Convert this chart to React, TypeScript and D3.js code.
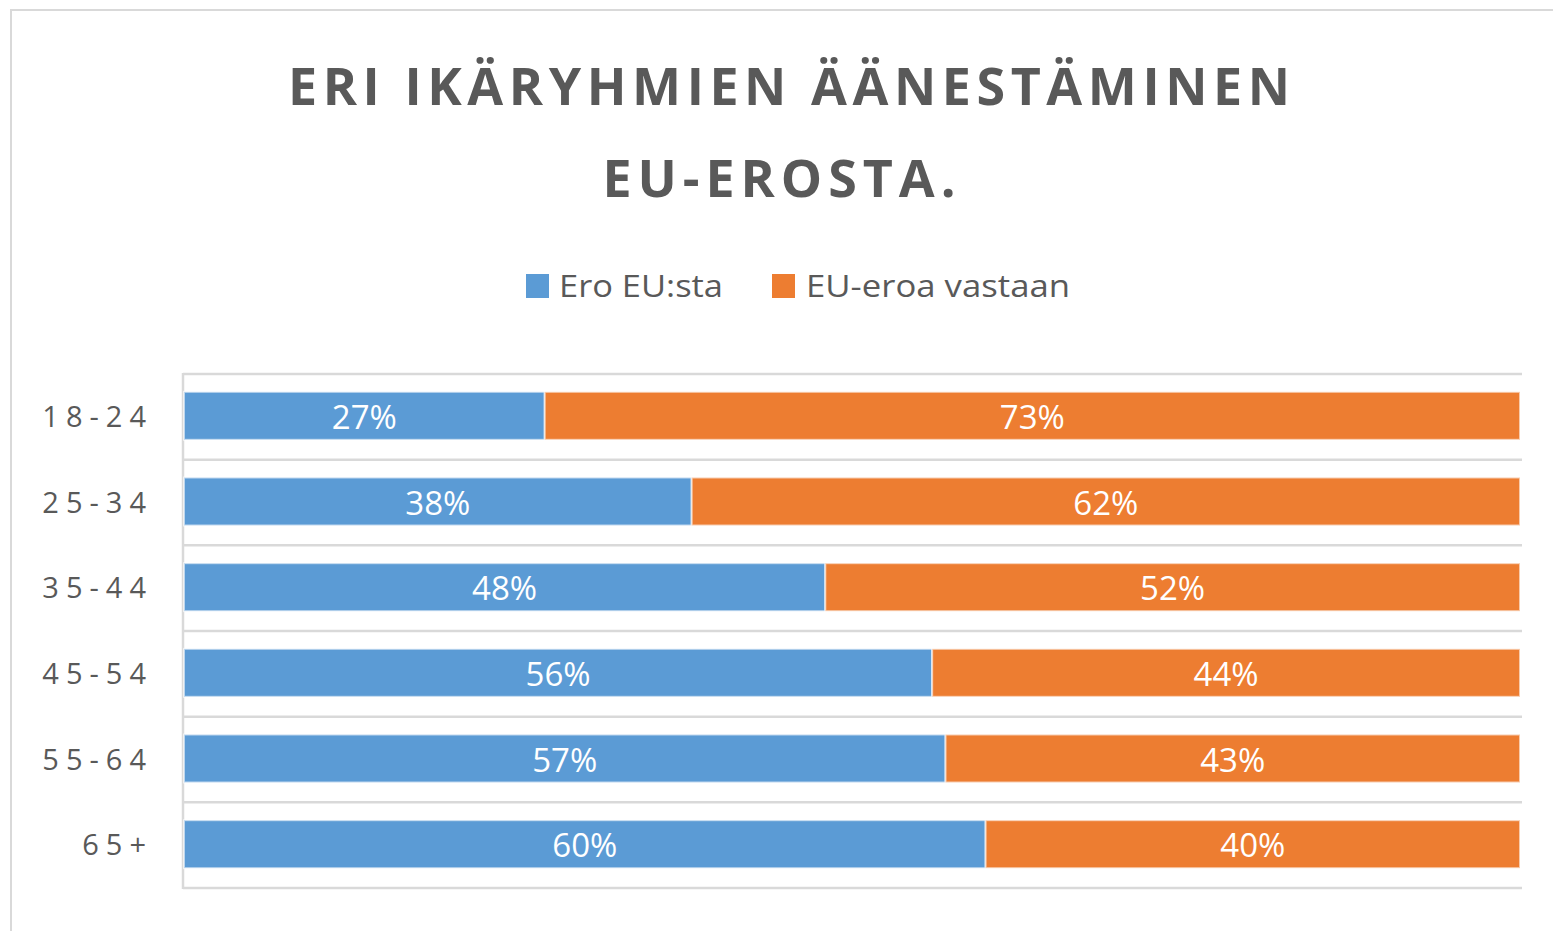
import React from "react";
import * as d3 from "d3";

const categories = ["18-24", "25-34", "35-44", "45-54", "55-64", "65+"];
const eroEUsta = [27, 38, 48, 56, 57, 60];
const euEroaVastaan = [73, 62, 52, 44, 43, 40];
const seriesNames = ["Ero EU:sta", "EU-eroa vastaan"];
const seriesColors = ["#5B9BD5", "#ED7D31"];
const titleLines = ["ERI IKÄRYHMIEN ÄÄNESTÄMINEN", "EU-EROSTA."];

const W = 1553;
const H = 931;
const FONT = "'Open Sans', 'Liberation Sans', sans-serif";
const TEXT = "#595959";
const GRID = "#d9d9d9";

export default function App() {
  const x = d3.scaleLinear().domain([0, 100]).range([184, 1520]);
  const y = d3
    .scaleBand<string>()
    .domain(categories)
    .range([374, 888])
    .paddingInner(0.44)
    .paddingOuter(0.22);
  const step = y.step();
  const bw = y.bandwidth();
  const gridYs = categories.map((c) => (y(c) as number) - (step - bw) / 2);
  gridYs.push(888);

  const stacked = categories.map((c, i) => {
    const a = eroEUsta[i];
    const b = euEroaVastaan[i];
    return [
      { c, x0: 0, x1: a, v: a, color: seriesColors[0] },
      { c, x0: a, x1: a + b, v: b, color: seriesColors[1] },
    ];
  });

  return (
    <svg
      width={W}
      height={H}
      style={{ position: "absolute", left: 0, top: 0, display: "block" }}
    >
      <rect x={0} y={0} width={W} height={H} fill="#fff" />
      {/* outer chart border */}
      <rect x={11} y={10} width={1600} height={1000} fill="none" stroke={GRID} strokeWidth={2} />

      {/* title */}
      <text
        x={789}
        y={105}
        textAnchor="middle"
        fontFamily={FONT}
        fontWeight="bold"
        fontSize={52}
        fill={TEXT}
        textLength={1002}
        lengthAdjust="spacing"
      >
        {titleLines[0]}
      </text>
      <text
        x={779}
        y={197}
        textAnchor="middle"
        fontFamily={FONT}
        fontWeight="bold"
        fontSize={52}
        fill={TEXT}
        textLength={353}
        lengthAdjust="spacing"
      >
        {titleLines[1]}
      </text>

      {/* legend */}
      <rect x={526} y={274} width={23} height={24} fill={seriesColors[0]} />
      <text x={559} y={297} fontFamily={FONT} fontSize={31} fill={TEXT} textLength={164} lengthAdjust="spacingAndGlyphs">
        {seriesNames[0]}
      </text>
      <rect x={772} y={274} width={23} height={24} fill={seriesColors[1]} />
      <text x={806} y={297} fontFamily={FONT} fontSize={31} fill={TEXT} textLength={264} lengthAdjust="spacingAndGlyphs">
        {seriesNames[1]}
      </text>

      {/* gridlines */}
      {gridYs.map((gy, i) => (
        <line key={i} x1={183} x2={1522} y1={gy} y2={gy} stroke={GRID} strokeWidth={2.5} />
      ))}
      <line x1={183} x2={183} y1={373} y2={889} stroke={GRID} strokeWidth={2.5} />

      {/* bars */}
      {stacked.map((segs) =>
        segs.map((s, j) => (
          <g key={s.c + j}>
            <rect
              x={x(s.x0)}
              y={(y(s.c) as number) - 1}
              width={x(s.x1) - x(s.x0)}
              height={bw}
              fill={s.color}
              stroke="#fff"
              strokeOpacity={0.6}
              strokeWidth={2}
            />
            <text
              x={(x(s.x0) + x(s.x1)) / 2}
              y={(y(s.c) as number) + bw / 2 + 12}
              textAnchor="middle"
              fontFamily={FONT}
              fontSize={33}
              fill="#fff"
            >
              {s.v}%
            </text>
          </g>
        ))
      )}

      {/* category labels */}
      {categories.map((c) => (
        <text
          key={c}
          x={153}
          y={(y(c) as number) + bw / 2 + 10}
          textAnchor="end"
          fontFamily={FONT}
          fontSize={29}
          fill={TEXT}
          letterSpacing={7}
        >
          {c}
        </text>
      ))}
    </svg>
  );
}
